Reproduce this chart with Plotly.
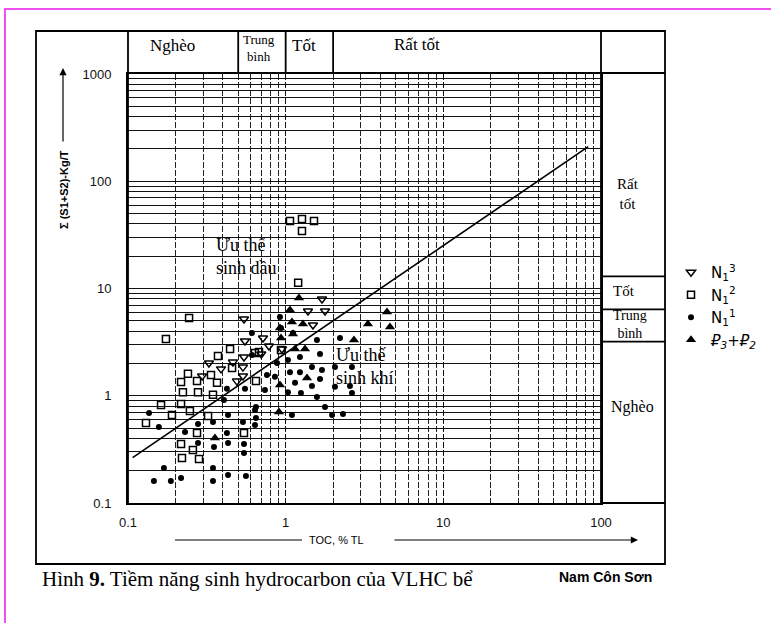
import plotly.graph_objects as go

W, H = 771, 623

# ---------------- data ----------------
# N1^3  (open down-triangles)
n13_toc = [1.70, 1.385, 1.776, 1.49, 0.544, 0.552, 0.718, 0.784, 0.947, 0.326, 0.463, 0.544, 0.389, 0.536, 0.295, 0.491, 0.536, 0.70]
n13_s = [7.98, 6.17, 6.17, 4.57, 5.20, 3.24, 3.46, 2.91, 2.73, 2.02, 2.06, 2.30, 1.78, 1.85, 1.53, 1.37, 1.53, 2.45]

# N1^2  (open squares)
n12_toc = [1.065, 1.269, 1.512, 1.269, 1.20, 0.244, 0.174, 0.444, 0.372, 0.677, 0.639, 0.934, 0.240, 0.336, 0.274, 0.367,
           0.217, 0.457, 0.648, 0.223, 0.278, 0.346, 0.162, 0.217, 0.247, 0.190, 0.130, 0.322, 0.274, 0.544,
           0.217, 0.258, 0.220, 0.282]
n12_s = [42.6, 44.5, 42.6, 34.4, 11.3, 5.31, 3.38, 2.73, 2.35, 2.56, 2.50, 2.67, 1.60, 1.56, 1.37, 1.32,
         1.34, 1.81, 1.37, 1.08, 1.08, 1.02, 0.820, 0.838, 0.721, 0.661, 0.557, 0.647, 0.449, 0.449,
         0.355, 0.312, 0.263, 0.257]

# N1^1  (filled circles)
n11_toc = [0.920, 0.934, 1.113, 0.611, 1.579, 2.210, 1.232, 1.651, 1.034, 0.881, 1.065, 1.232, 1.468, 1.699, 2.054,
           2.633, 0.761, 0.855, 1.146, 1.651, 1.468, 2.054, 2.557, 1.034, 1.250, 1.579, 2.633, 0.739, 0.552,
           0.424, 0.611, 0.406, 0.639, 0.648, 0.639, 0.536, 1.776, 1.97, 2.309, 1.096, 0.431, 0.346, 0.278,
           0.230, 0.424, 0.136, 0.157, 0.278, 0.351, 0.431, 0.544, 0.544, 0.346, 0.431, 0.560, 0.217, 0.187,
           0.146, 0.169, 0.346, 0.648]
n11_s = [5.42, 4.28, 3.85, 3.85, 3.31, 3.46, 2.30, 2.45, 2.15, 2.02, 1.66, 1.66, 1.85, 1.74, 1.85,
         1.85, 1.56, 1.50, 1.32, 1.43, 1.23, 1.21, 1.23, 1.08, 1.06, 0.974, 1.06, 1.13, 1.16,
         1.16, 2.40, 0.913, 0.736, 0.620, 0.534, 0.569, 0.785, 0.661, 0.676, 0.661, 0.661, 0.569, 0.545,
         0.459, 0.449, 0.690, 0.511, 0.363, 0.333, 0.363, 0.355, 0.292, 0.212, 0.182, 0.179, 0.171, 0.160,
         0.160, 0.212, 0.160, 0.785]

# P3+P2  (filled triangles)
pg_toc = [1.214, 1.065, 1.096, 1.287, 0.920, 0.934, 1.113, 1.146, 1.326, 2.711, 3.326, 4.391, 4.587, 1.365, 0.920, 0.907, 0.356]
pg_s = [8.15, 6.30, 4.87, 4.67, 4.28, 3.46, 3.77, 2.73, 2.73, 3.31, 4.67, 6.04, 4.38, 1.46, 1.26, 0.705, 0.404]

# oil / gas dividing line
line_toc = [0.107, 83.0]
line_s = [0.265, 210.0]

# class boundaries
toc_bounds = [0.5, 1.0, 2.0]          # Nghèo | Trung bình | Tốt | Rất tốt
toc_class_labels = ["Nghèo", "Trung<br>bình", "Tốt", "Rất tốt"]
s_bounds = [3.2, 6.4, 13.0]           # Nghèo | Trung bình | Tốt | Rất tốt
s_class_labels = ["Rất<br>tốt", "Tốt", "Trung<br>bình", "Nghèo"]

x_tick_labels = ["0.1", "1", "10", "100"]
y_tick_labels = ["0.1", "1", "10", "100", "1000"]

# ---------------- helpers ----------------
def px(x):
    return x / W


def py(y):
    return 1 - y / H


def minor_vals(labels):
    decs = [float(t) for t in labels]
    return [d * m for d in decs[:-1] for m in range(2, 10)]


x_major = [float(t) for t in x_tick_labels]
y_major = [float(t) for t in y_tick_labels]
x_minor = minor_vals(x_tick_labels)
y_minor = minor_vals(y_tick_labels)

X0, X1, Y0, Y1 = 128, 601, 74, 503  # plot box in pixels

fig = go.Figure()

mk_line = dict(color="black", width=1.5)
fig.add_trace(go.Scatter(x=n13_toc, y=n13_s, mode="markers", name="N<sub>1</sub><sup>3</sup>",
                         marker=dict(symbol="triangle-down-open", size=8, color="black", line=mk_line)))
fig.add_trace(go.Scatter(x=n12_toc, y=n12_s, mode="markers", name="N<sub>1</sub><sup>2</sup>",
                         marker=dict(symbol="square-open", size=7, color="black", line=mk_line)))
fig.add_trace(go.Scatter(x=n11_toc, y=n11_s, mode="markers", name="N<sub>1</sub><sup>1</sup>",
                         marker=dict(symbol="circle", size=6, color="black")))
fig.add_trace(go.Scatter(x=pg_toc, y=pg_s, mode="markers", name="<i>₽<sub>3</sub>+₽<sub>2</sub></i>",
                         marker=dict(symbol="triangle-up", size=9, color="black")))
fig.add_trace(go.Scatter(x=line_toc, y=line_s, mode="lines", showlegend=False,
                         line=dict(color="black", width=1.6)))

axis_font = dict(family="Liberation Sans, Arial, sans-serif", size=13, color="#111")
fig.update_xaxes(type="log", range=[-1, 2], domain=[px(X0), px(X1)], anchor="y", automargin=False,
                 tickmode="array", tickvals=x_major, ticktext=x_tick_labels, ticks="",
                 showgrid=True, gridcolor="#111", gridwidth=1, griddash="6px,2px",
                 minor=dict(tickmode="array", tickvals=x_minor, showgrid=True, gridcolor="#222",
                            gridwidth=1, griddash="6px,2px", ticks=""),
                 showline=True, mirror=True, linecolor="black",
                 linewidth=2, zeroline=False, tickfont=axis_font, ticklabelstandoff=6)
fig.update_yaxes(type="log", range=[-1, 3], domain=[py(Y1), py(Y0)], anchor="x", automargin=False,
                 tickmode="array", tickvals=y_major, ticktext=y_tick_labels, ticks="",
                 showgrid=True, gridcolor="#111", gridwidth=1,
                 minor=dict(tickmode="array", tickvals=y_minor, showgrid=True, gridcolor="#111",
                            gridwidth=1, ticks=""),
                 showline=True, mirror=True, linecolor="black",
                 linewidth=2, zeroline=False, tickfont=axis_font, ticklabelstandoff=12)

shapes = []
frame = dict(color="black", width=1.8)
# outer frame
shapes.append(dict(type="rect", xref="paper", yref="paper", x0=px(36), x1=px(665), y0=py(564), y1=py(31),
                   line=frame))
# header row bottom and right column
shapes.append(dict(type="line", xref="paper", yref="paper", x0=px(X0), x1=px(665), y0=py(73), y1=py(73), line=frame))
shapes.append(dict(type="line", xref="paper", yref="paper", x0=px(X0), x1=px(X0), y0=py(31), y1=py(Y1), line=frame))
shapes.append(dict(type="line", xref="paper", yref="paper", x0=px(X1), x1=px(X1), y0=py(31), y1=py(Y1), line=frame))
shapes.append(dict(type="line", xref="paper", yref="paper", x0=px(X1), x1=px(665), y0=py(Y1), y1=py(Y1), line=frame))
for b in toc_bounds:
    shapes.append(dict(type="line", xref="x", yref="paper", x0=b, x1=b, y0=py(73), y1=py(31), line=frame))
for b in s_bounds:
    shapes.append(dict(type="line", xref="paper", yref="y", x0=px(X1), x1=px(665), y0=b, y1=b, line=frame))
# pink page border
shapes.append(dict(type="rect", xref="paper", yref="paper", x0=px(5), x1=1.05, y0=-0.05, y1=py(9),
                   line=dict(color="#f050f0", width=2)))
# x-axis title left rule
shapes.append(dict(type="line", xref="paper", yref="paper", x0=px(175), x1=px(302), y0=py(540), y1=py(540),
                   line=dict(color="black", width=1.2)))
fig.update_layout(shapes=shapes)

serif = "Liberation Serif, Times New Roman, serif"
ann = []


def txt(x, y, s, size=15, family=serif, **kw):
    d = dict(xref="paper", yref="paper", x=px(x), y=py(y), text=s, showarrow=False,
             font=dict(family=family, size=size, color="black"), xanchor="center", yanchor="middle")
    d.update(kw)
    ann.append(d)


# header class labels
txt(172, 45, toc_class_labels[0], 17)
txt(259, 48, toc_class_labels[1], 13)
txt(304, 45, toc_class_labels[2], 17)
txt(417, 44, toc_class_labels[3], 17)
# right column class labels
txt(628, 194, s_class_labels[0], 15)
txt(624, 291, s_class_labels[1], 15)
txt(630, 324, s_class_labels[2], 14)
txt(632, 407, s_class_labels[3], 16)
# region labels
txt(214, 256, "Ưu thế<br>sinh dầu", 18, xanchor="left", align="left")
txt(334, 366, "Ưu thế<br>sinh khí", 18, xanchor="left", align="left")
# axis titles
txt(64, 190, "<b>Σ (S1+S2)-Kg/T</b>", 11, family="Liberation Sans, Arial, sans-serif", textangle=-90)
txt(336, 540, "TOC, % TL", 11, family="Liberation Sans, Arial, sans-serif")
ann.append(dict(xref="paper", yref="paper", axref="pixel", ayref="pixel", x=px(638), y=py(540),
                ax=-245, ay=0, text="", showarrow=True, arrowhead=2, arrowsize=1.2,
                arrowwidth=1.2, arrowcolor="black"))
ann.append(dict(xref="paper", yref="paper", axref="pixel", ayref="pixel", x=px(63), y=py(68),
                ax=0, ay=75, text="", showarrow=True, arrowhead=2, arrowsize=1.2,
                arrowwidth=1.2, arrowcolor="black"))
# caption
txt(40, 579, "Hình <b>9.</b> Tiềm năng sinh hydrocarbon của VLHC bể", 21, xanchor="left")
txt(557, 577, "<b>Nam Côn Sơn</b>", 14, family="Liberation Sans, Arial, sans-serif", xanchor="left")
fig.update_layout(annotations=ann)

fig.update_layout(
    width=W, height=H, autosize=False,
    margin=dict(l=0, r=0, t=0, b=0, autoexpand=False),
    paper_bgcolor="white", plot_bgcolor="white",
    showlegend=True,
    legend=dict(x=px(671), y=py(256), xanchor="left", yanchor="top", bgcolor="rgba(0,0,0,0)",
                font=dict(family="DejaVu Sans, Liberation Sans, sans-serif", size=15, color="black"),
                tracegroupgap=0, itemwidth=30),
)

fig.write_html("out.html", config={"displayModeBar": False},
               post_script="document.body.style.margin='0px';")
